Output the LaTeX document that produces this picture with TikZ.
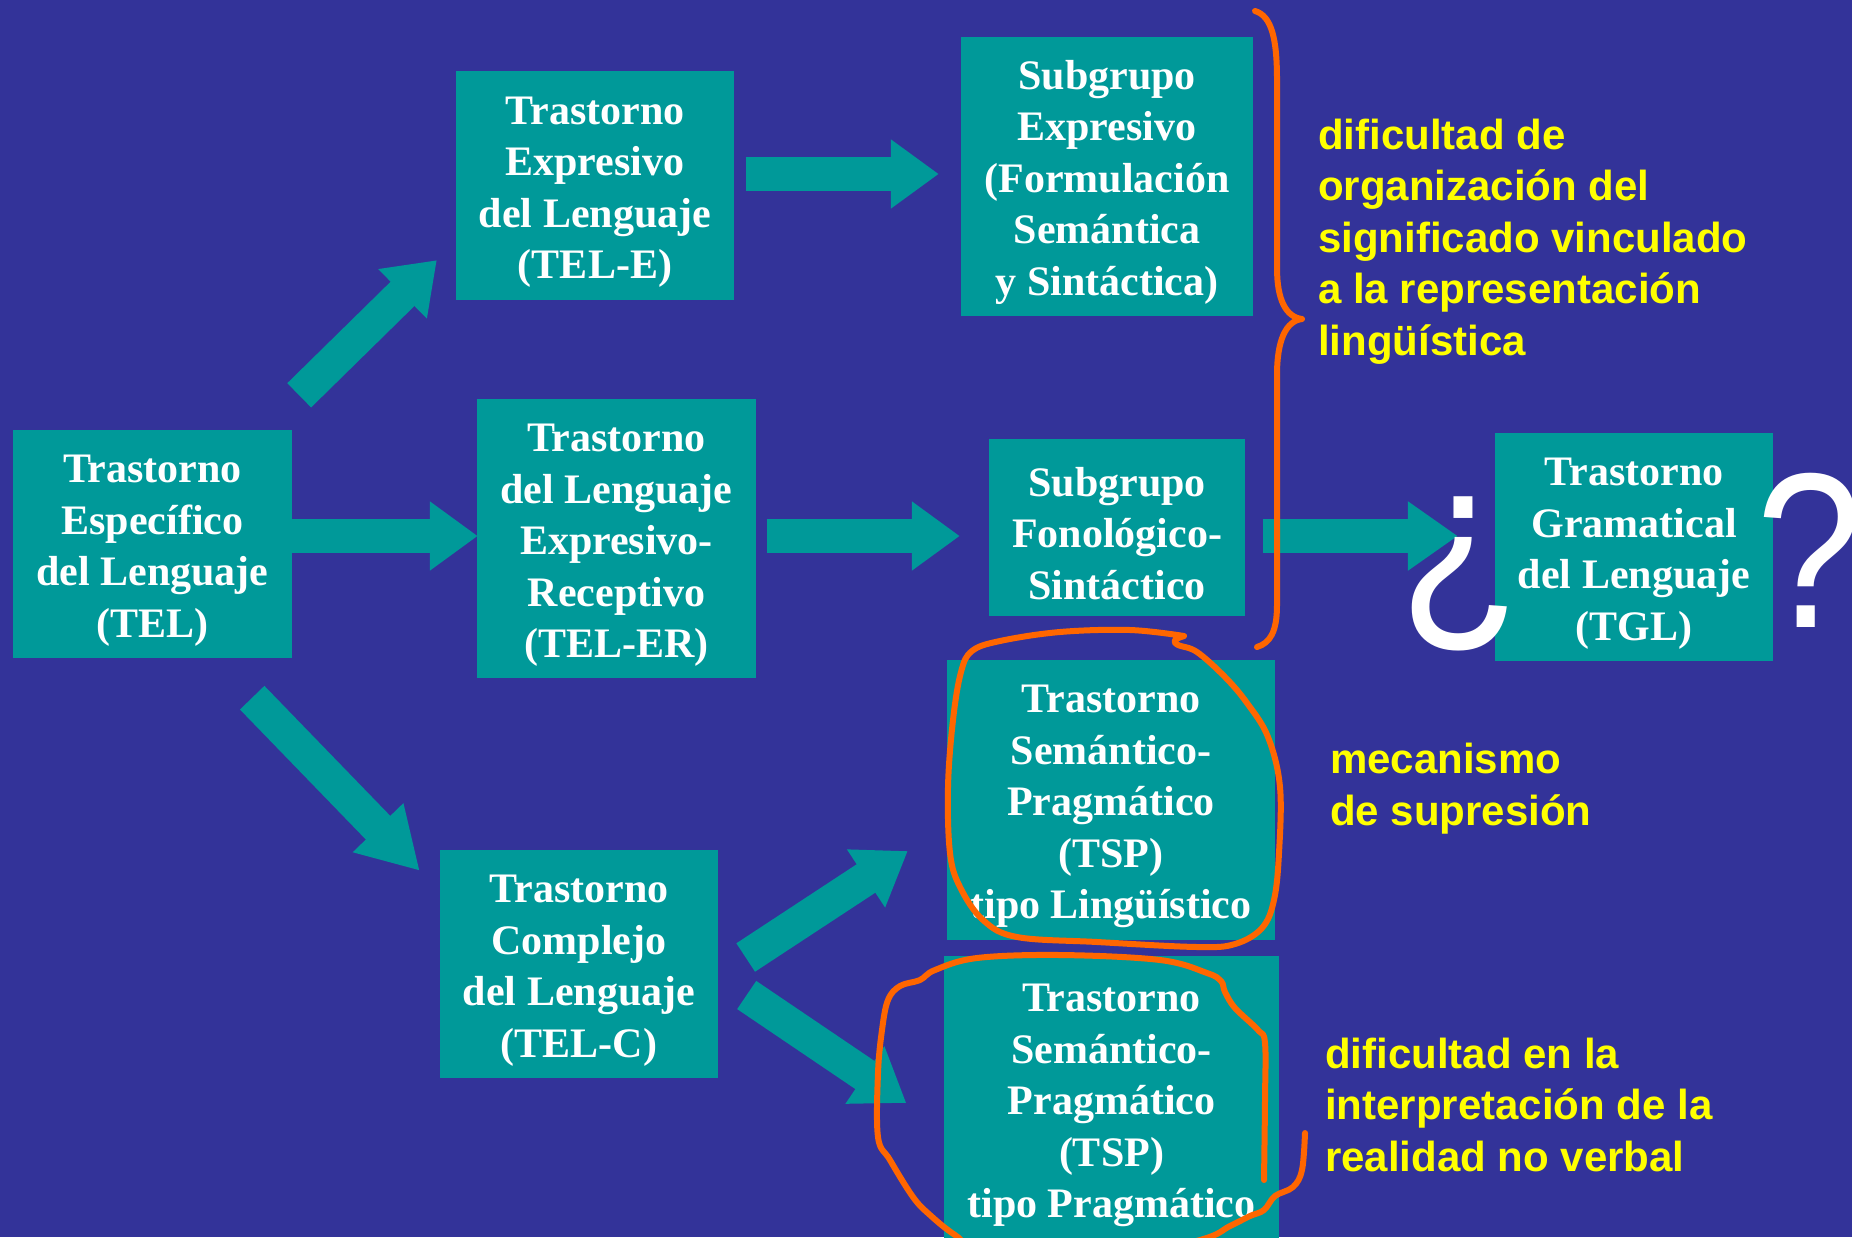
\documentclass[tikz,border=0pt]{standalone}
\usepackage{fontspec}
\setmainfont{Liberation Serif}
\newfontfamily\yfont{Liberation Sans}
\usetikzlibrary{arrows.meta,calc}
\definecolor{bgblue}{HTML}{333399}
\definecolor{tealbox}{HTML}{009999}
\definecolor{yel}{HTML}{FFFF00}
\definecolor{orng}{HTML}{FF6600}
\newcommand\toppad{\rule{0pt}{41pt}}
\begin{document}
\begin{tikzpicture}[x=1pt,y=-1pt,
  box/.style={fill=tealbox, text=white, font=\fontsize{42}{51.5}\selectfont\bfseries,
    align=center, inner sep=0pt, anchor=center},
  barrow/.style={draw=tealbox, line width=34pt, -{Triangle[length=#1,width=66pt]}},
  barrow/.default=48pt,
  note/.style={text=yel, font=\yfont\fontsize{42}{51.5}\selectfont\bfseries,
    align=left, anchor=base west, inner sep=0pt},
  qmark/.style={text=white, font=\yfont\fontsize{221}{221}\selectfont,
    inner sep=0pt, anchor=base west},
  penline/.style={draw=orng, line width=6pt, line cap=round, line join=round}
]
\fill[bgblue] (0,0) rectangle (1852,1237);
\useasboundingbox (0,0) rectangle (1852,1237);

% boxes
\node[box, minimum width=279pt, minimum height=228pt] (tel) at (152.5,544)
  {\toppad Trastorno\\Específico\\del Lenguaje\\(TEL)};
\node[box, minimum width=278pt, minimum height=229pt] (tele) at (595,185.5)
  {\toppad Trastorno\\Expresivo\\del Lenguaje\\(TEL-E)};
\node[box, minimum width=279pt, minimum height=279pt] (teler) at (616.5,538.5)
  {\toppad Trastorno\\del Lenguaje\\Expresivo-\\Receptivo\\(TEL-ER)};
\node[box, minimum width=278pt, minimum height=228pt] (telc) at (579,964)
  {\toppad Trastorno\\Complejo\\del Lenguaje\\(TEL-C)};
\node[box, minimum width=292pt, minimum height=279pt] (sube) at (1107,176.5)
  {\toppad Subgrupo\\Expresivo\\(Formulación\\Semántica\\y Sintáctica)};
\node[box, minimum width=256pt, minimum height=177pt] (subf) at (1117,527.5)
  {\toppad Subgrupo\\Fonológico-\\Sintáctico};
\node[box, minimum width=278pt, minimum height=228pt] (tgl) at (1634,547)
  {\toppad Trastorno\\Gramatical\\del Lenguaje\\(TGL)};
\node[box, minimum width=328pt, minimum height=280pt] (tsp1) at (1111,800)
  {\toppad Trastorno\\Semántico-\\Pragmático\\(TSP)\\tipo Lingüístico};
\node[box, minimum width=335pt, minimum height=286pt] (tsp2) at (1111.5,1099)
  {\toppad Trastorno\\Semántico-\\Pragmático\\(TSP)\\tipo Pragmático};

% block arrows
\draw[barrow] ($(tel.north east)+(7,-34.5)$) -- ($(tele.south west)+(-19,-40)$);
\draw[barrow] ($(tel.east)+(0,-8)$) -- ($(teler.west)+(1,-2.5)$);
\draw[barrow=60pt] ($(tel.south east)+(-40,39.5)$) -- ($(telc.north west)+(-20,21)$);
\draw[barrow] ($(tele.east)+(12,-11.5)$) -- ($(sube.west)+(-22,-2.5)$);
\draw[barrow] ($(teler.east)+(11,-2.5)$) -- ($(subf.west)+(-29,8.5)$);
\draw[barrow=50pt] ($(subf.east)+(18,8.5)$) -- ($(tgl.west)+(-37,-11)$);
\draw[barrow=50pt] ($(telc.east)+(27.5,-6.5)$) -- ($(tsp1.west)+(-39,51)$);
\draw[barrow=50pt] ($(telc.east)+(28.5,31)$) -- ($(tsp2.west)+(-37.5,4)$);

% question marks
\node[qmark] (qopen) at (1399,613) {\scalebox{0.9}[1]{¿}};
\node[qmark] (qclose) at (1756,627) {\makebox[90pt][l]{\scalebox{0.86}[1]{?}}};

% orange brace
\draw[penline] (1255,11) .. controls (1272,16) and (1277,40) .. (1277,80)
  -- (1277,268) .. controls (1277,300) and (1286,317) .. (1302,319)
  .. controls (1286,321) and (1277,340) .. (1277,375)
  -- (1277,605) .. controls (1277,632) and (1270,643) .. (1257,647);

% orange loops
\draw[penline] plot[smooth, tension=0.6] coordinates {(1184,636) (1130,630) (1060,632)
  (1000,641) (972,651) (961,672) (953,720) (948,787) (950,853) (960,887) (983,920)
  (1017,937) (1097,942) (1197,947) (1235,944) (1262,928) (1274,900) (1279,853)
  (1280,787) (1268,737) (1247,703) (1225,677) (1197,652) (1178,645) (1175,640) (1184,636)};
\draw[penline] plot[smooth, tension=0.6] coordinates {(1264,1180) (1265,1100) (1265,1043)
  (1258,1030) (1235,1008) (1225,992) (1221,981) (1207,973) (1160,960) (1060,955)
  (977,958) (935,970) (920,980) (900,986) (888,1000) (882,1030) (878,1073) (878,1137)
  (890,1160) (913,1197) (930,1215) (955,1235) (990,1255) (1100,1262) (1200,1240)
  (1230,1226) (1250,1216) (1264,1210) (1275,1196) (1293,1187) (1302,1170) (1305,1133)};

% yellow notes (anchored at the baseline of their last line)
\node[note] (n1) at (1318,355) {dificultad de\\organización del\\significado vinculado\\a la representación\\lingüística};
\node[note] (n2) at (1330,825) {mecanismo\\de supresión};
\node[note] (n3) at (1325,1171) {dificultad en la\\interpretación de la\\realidad no verbal};
\end{tikzpicture}
\end{document}
